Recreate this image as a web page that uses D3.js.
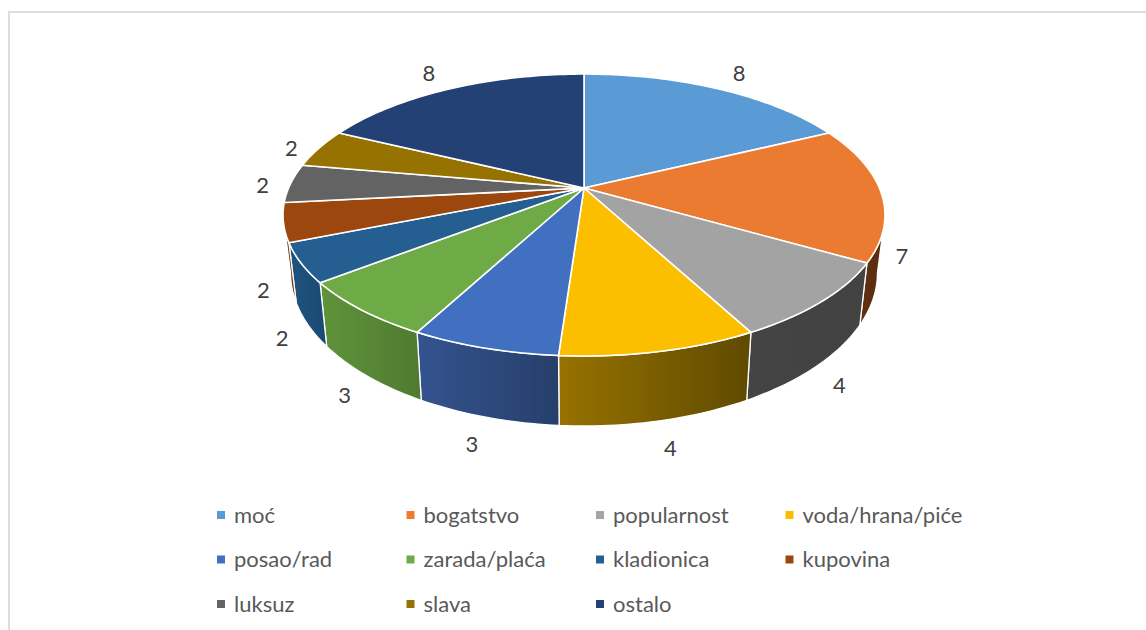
<!DOCTYPE html>
<html>
<head>
<meta charset="utf-8">
<script src="https://cdnjs.cloudflare.com/ajax/libs/d3/7.8.5/d3.min.js"></script>
<style>
  html, body { margin: 0; padding: 0; background: #fff; }
  svg { display: block; font-family: Lato, "Open Sans", sans-serif; }
</style>
</head>
<body>
<script>
const categories = ['moć', 'bogatstvo', 'popularnost', 'voda/hrana/piće', 'posao/rad', 'zarada/plaća',
  'kladionica', 'kupovina', 'luksuz', 'slava', 'ostalo'];
const values = [8, 7, 4, 4, 3, 3, 2, 2, 2, 2, 8];
const colors = ['#5b9bd5', '#eb7b31', '#a3a3a3', '#fcbf00', '#4270c0', '#6eaa46',
  '#255e91', '#9c470d', '#636363', '#967200', '#244176'];
// side wall shading, left and right end of the gradient
const wallLeft = ['#3d6a94', '#5f3010', '#444444', '#977200', '#34538f', '#5f9339',
  '#1e5480', '#7f3a0b', '#444444', '#6b5000', '#1c3258'];
const wallRight = ['#3d6a94', '#5a2d0f', '#424242', '#5f4a00', '#263f6a', '#4f7a30',
  '#1a4a72', '#6d320a', '#444444', '#6b5000', '#1c3258'];

const width = 1146, height = 630;
const cx = 584, cy = 188;          // where the slices meet
const rimX = 295.4, rimY = 135.8;  // plane radius before perspective
const persp = 0.1916;
const wallScaleX = 0.975, wallScaleY = 1.087, wallBase = 243.4;
const rimLimit = 101.2 * Math.PI / 180; // where the rim turns away from the viewer

// perspective of the tilted pie, angle is clockwise from 12 o'clock
function top_pt(a) {
  const X = Math.sin(a), Y = -Math.cos(a), w = 1 - persp * Y;
  return [cx + rimX * X / w, cy + rimY * Y / w];
}
function bottom_pt(a) {
  const p = top_pt(a);
  return [cx + wallScaleX * (p[0] - cx), wallBase + wallScaleY * (p[1] - cy)];
}
function samples(a0, a1) {
  const n = Math.max(2, Math.ceil((a1 - a0) / 0.02));
  return d3.range(n + 1).map(i => a0 + (a1 - a0) * i / n);
}

const line = d3.line();
const pie = d3.pie().sort(null).value(d => d.value);
const color = d3.scaleOrdinal().domain(categories).range(colors);
const slices = pie(categories.map((name, i) => ({ name, value: values[i], i })));

const svg = d3.select('body').append('svg').attr('width', width).attr('height', height);
svg.append('rect').attr('width', width).attr('height', height).attr('fill', '#fff');

// frame of the pasted picture
svg.append('path').attr('fill', 'none').attr('stroke', '#dcdcdc').attr('stroke-width', 2)
  .attr('d', line([[9, height], [9, 12], [width, 12]]));

const defs = svg.append('defs');
slices.forEach(s => {
  const g = defs.append('linearGradient').attr('id', 'wall' + s.data.i);
  g.append('stop').attr('offset', 0).attr('stop-color', wallLeft[s.data.i]);
  g.append('stop').attr('offset', 1).attr('stop-color', wallRight[s.data.i]);
});

// near side walls, only the part of the rim that faces the viewer
const walls = slices
  .map(s => ({ s, a0: Math.max(s.startAngle, rimLimit), a1: Math.min(s.endAngle, 2 * Math.PI - rimLimit) }))
  .filter(d => d.a1 > d.a0);

svg.append('g').selectAll('path').data(walls).join('path')
  .attr('d', d => {
    const angles = samples(d.a0, d.a1);
    return line(angles.map(top_pt).concat(angles.slice().reverse().map(bottom_pt))) + 'Z';
  })
  .attr('fill', d => `url(#wall${d.s.data.i})`)
  .attr('stroke', '#fff').attr('stroke-width', 1.3).attr('stroke-linejoin', 'round');

// top faces
svg.append('g').selectAll('path').data(slices).join('path')
  .attr('d', s => line([[cx, cy]].concat(samples(s.startAngle, s.endAngle).map(top_pt))) + 'Z')
  .attr('fill', s => color(s.data.name))
  .attr('stroke', '#fff').attr('stroke-width', 1.6).attr('stroke-linejoin', 'round');

// value labels sit just off the rim, on the wall bottom where there is a wall
svg.append('g').selectAll('text').data(slices).join('text')
  .attr('transform', s => {
    const a = (s.startAngle + s.endAngle) / 2;
    const X = Math.sin(a), Y = -Math.cos(a);
    const p = Y > 0 ? bottom_pt(a) : top_pt(a);
    const dx = 28 * Math.sign(X) * Math.sqrt(Math.abs(X));
    const dy = Y > 0 ? 8 + 20 * Y * Y : 2 - 25 * Y * Y;
    return `translate(${p[0] + dx},${p[1] + dy})`;
  })
  .attr('text-anchor', 'middle').attr('dy', '0.35em')
  .attr('font-size', 22).attr('fill', '#404040')
  .text(s => s.value);

// legend, four columns
const legendX = d3.scaleLinear().domain([0, 1]).range([217, 406.5]);
const legendY = d3.scaleLinear().domain([0, 1]).range([515, 559.5]);
const legend = svg.append('g').selectAll('g').data(categories).join('g')
  .attr('transform', (d, i) => `translate(${legendX(i % 4)},${legendY(Math.floor(i / 4))})`);
legend.append('rect').attr('y', -4).attr('width', 8).attr('height', 8).attr('fill', d => color(d));
legend.append('text').attr('x', 17).attr('dy', '0.35em')
  .attr('font-size', 22).attr('fill', '#595959').text(d => d);
</script>
</body>
</html>
